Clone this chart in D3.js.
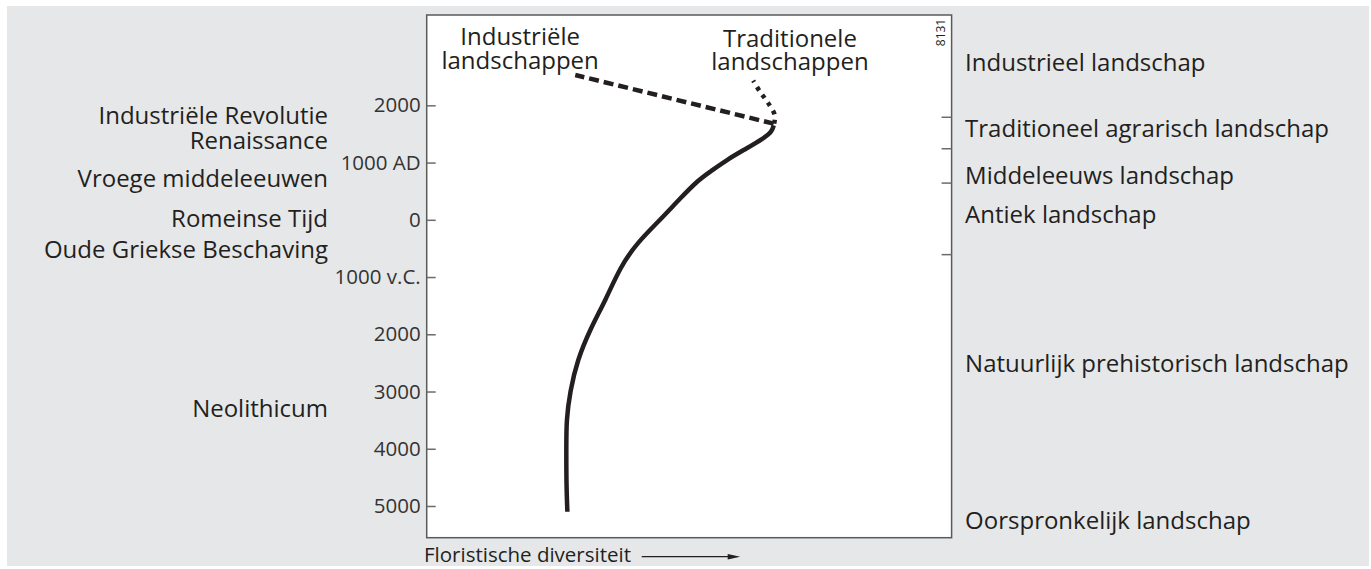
<!DOCTYPE html>
<html lang="nl">
<head>
<meta charset="utf-8">
<script src="https://cdn.jsdelivr.net/npm/d3@7"></script>
<style>
    body { margin: 0; background: #ffffff; }
    text { font-family: "Open Sans", "Noto Sans", sans-serif; fill: #231f20; }
    .tick text { fill: #333333; }
    .tick line { stroke: #6b6b6b; stroke-width: 1.5; }
</style>
</head>
<body>
<script type="text/javascript">

    /* 데이터 */
    var axisYears = [2000, 1000, 0, -1000, -2000, -3000, -4000, -5000];
    var axisLabels = ["2000", "1000 AD", "0", "1000 v.C.", "2000", "3000", "4000", "5000"];

    var periodNames = ["Industriële Revolutie", "Renaissance", "Vroege middeleeuwen", "Romeinse Tijd",
        "Oude Griekse Beschaving", "Neolithicum"];
    var periodYears = [1830, 1395, 730, 30, -520, -3300];

    var landscapeNames = ["Industrieel landschap", "Traditioneel agrarisch landschap", "Middeleeuws landschap",
        "Antiek landschap", "Natuurlijk prehistorisch landschap", "Oorspronkelijk landschap"];
    var landscapeYears = [2750, 1600, 780, 100, -2500, -5250];
    var landscapeBounds = [1800, 1250, 650, -600];

    /* floristische diversiteit (0-100) per jaar */
    var naturalYears = [-5100, -4600, -4000, -3500, -3000, -2450, -1900, -1400, -820, -400, 0, 375, 700, 840, 1050, 1250, 1425, 1540, 1650];
    var naturalDiv = [26.8, 26.6, 26.6, 26.6, 27.3, 28.7, 31.2, 34.1, 36.9, 40.1, 44.5, 48.3, 51.8, 54.0, 57.2, 61.0, 64.2, 65.8, 66.1];

    var industrialYears = [1680, 2530];
    var industrialDiv = [66.1, 28.3];

    var traditionalYears = [1680, 1830, 2035, 2238, 2430];
    var traditionalDiv = [66.2, 66.3, 65.1, 63.5, 62.2];

    var seriesNames = [["Industriële", "landschappen"], ["Traditionele", "landschappen"]];
    var figureCode = "8131";
    var xTitle = "Floristische diversiteit";

    var svgWidth = 1371;
    var svgHeight = 569;

    var svg = d3.select("body").append("svg")
            .attr("width", svgWidth)
            .attr("height", svgHeight);

    /* 회색 배경 */
    svg.append("rect")
            .attr("x", 7)
            .attr("y", 6)
            .attr("width", 1362)
            .attr("height", 560)
            .style("fill", "#e6e7e9");

    var margin = {top: 15, right: 419.4, bottom: 31.3, left: 426.7};
    var chartWidth = svgWidth - margin.left - margin.right;
    var chartHeight = svgHeight - margin.top - margin.bottom;

    var g = svg.append("g")
            .attr("transform", "translate(" + margin.left + ", " + margin.top + ")");

    /* scale */
    var x = d3.scaleLinear()
            .range([0, chartWidth])
            .domain([0, 100]);

    var y = d3.scaleLinear()
            .range([0, chartHeight])
            .domain([3578, -5554]);

    /* 흰색 박스 */
    g.append("rect")
            .attr("width", chartWidth)
            .attr("height", chartHeight)
            .style("fill", "#ffffff")
            .style("stroke", "#5a5a5a")
            .style("stroke-width", 1.5);

    /* 왼쪽 축 - tick 안쪽으로 */
    var yAxis = g.append("g")
            .call(d3.axisLeft(y)
                    .tickValues(axisYears)
                    .tickSize(-9)
                    .tickPadding(6)
                    .tickFormat(function(d, i) { return axisLabels[i]; }));
    yAxis.select(".domain").remove();
    yAxis.selectAll(".tick text")
            .style("font-size", "20.5px")
            .style("font-family", "'Open Sans', sans-serif");

    /* 오른쪽 구간 tick */
    var rAxis = g.append("g")
            .attr("transform", "translate(" + chartWidth + ", 0)")
            .call(d3.axisRight(y)
                    .tickValues(landscapeBounds)
                    .tickSize(-10)
                    .tickFormat(""));
    rAxis.select(".domain").remove();

    /* 시대 이름 */
    g.selectAll(".period")
            .data(periodNames)
            .enter()
            .append("text")
            .attr("class", "period")
            .attr("x", -98.7)
            .attr("y", function(d, i) { return y(periodYears[i]); })
            .attr("dy", "0.36em")
            .attr("text-anchor", "end")
            .style("font-size", "24px")
            .text(function(d) { return d; });

    /* 경관 이름 */
    g.selectAll(".landscape")
            .data(landscapeNames)
            .enter()
            .append("text")
            .attr("class", "landscape")
            .attr("x", chartWidth + 13.5)
            .attr("y", function(d, i) { return y(landscapeYears[i]); })
            .attr("dy", "0.36em")
            .style("font-size", "24px")
            .text(function(d) { return d; });

    /* 라인 */
    var line = d3.line()
            .x(function(d) { return x(d[1]); })
            .y(function(d) { return y(d[0]); })
            .curve(d3.curveBasis);

    var straight = d3.line()
            .x(function(d) { return x(d[1]); })
            .y(function(d) { return y(d[0]); })
            .curve(d3.curveCatmullRom.alpha(0.5));

    g.append("path")
            .datum(d3.zip(naturalYears, naturalDiv))
            .attr("d", line)
            .style("fill", "none")
            .style("stroke", "#231f20")
            .style("stroke-width", 4.5)
            .style("stroke-linejoin", "round");

    g.append("path")
            .datum(d3.zip(industrialYears, industrialDiv))
            .attr("d", straight)
            .style("fill", "none")
            .style("stroke", "#231f20")
            .style("stroke-width", 4.5)
            .style("stroke-dasharray", "10,5");

    g.append("path")
            .datum(d3.zip(traditionalYears, traditionalDiv))
            .attr("d", straight)
            .style("fill", "none")
            .style("stroke", "#231f20")
            .style("stroke-width", 4.5)
            .style("stroke-dasharray", "4,5.5");

    /* 라인 이름 */
    var nameX = [17.8, 69.2];
    var names = g.selectAll(".sname")
            .data(seriesNames)
            .enter()
            .append("text")
            .attr("class", "sname")
            .attr("text-anchor", "middle")
            .attr("x", function(d, i) { return x(nameX[i]); })
            .attr("y", function(d, i) { return i == 0 ? 30 : 31.7; })
            .style("font-size", "24px");
    names.selectAll("tspan")
            .data(function(d) { return d; })
            .enter()
            .append("tspan")
            .attr("x", function() { return d3.select(this.parentNode).attr("x"); })
            .attr("dy", function(d, i) { return i == 0 ? 0 : 23.5; })
            .text(function(d) { return d; });

    /* 8131 */
    g.append("text")
            .attr("transform", "translate(" + (chartWidth - 6.5) + ", 17.5) rotate(-90)")
            .attr("text-anchor", "middle")
            .style("font-size", "12px")
            .text(figureCode);

    /* x 축 제목 + 화살표 */
    g.append("text")
            .attr("x", -2.7)
            .attr("y", chartHeight + 24)
            .style("font-size", "20.5px")
            .text(xTitle);

    g.append("line")
            .attr("x1", 215)
            .attr("x2", 305)
            .attr("y1", chartHeight + 19)
            .attr("y2", chartHeight + 19)
            .style("stroke", "#231f20")
            .style("stroke-width", 1.3);

    g.append("path")
            .attr("d", "M301," + (chartHeight + 16.3) + "L313.5," + (chartHeight + 19) + "L301," + (chartHeight + 21.7) + "Z")
            .style("fill", "#231f20");

</script>
</body>
</html>
